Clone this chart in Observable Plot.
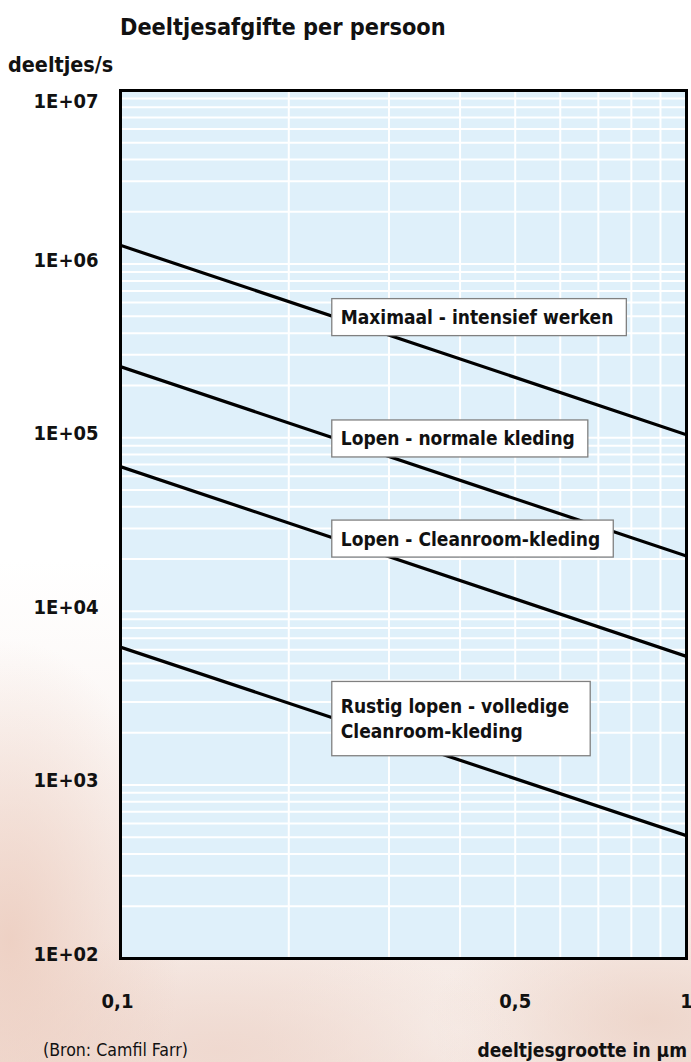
<!DOCTYPE html>
<html>
<head>
<meta charset="utf-8">
<script src="https://cdn.jsdelivr.net/npm/d3@7"></script>
<script src="https://cdn.jsdelivr.net/npm/@observablehq/plot@0.6"></script>
<style>
  html, body { margin: 0; padding: 0; }
  body {
    width: 691px; height: 1062px; position: relative; overflow: hidden;
    font-family: "DejaVu Sans Condensed", "DejaVu Sans", sans-serif;
    background:
      radial-gradient(ellipse 170px 300px at 10px 940px, rgba(236,204,190,0.85), rgba(236,204,190,0) 100%),
      radial-gradient(ellipse 300px 120px at 220px 1050px, rgba(238,214,204,0.8), rgba(238,214,204,0) 100%),
      radial-gradient(ellipse 220px 110px at 650px 1020px, rgba(236,210,198,0.8), rgba(236,210,198,0) 100%),
      radial-gradient(ellipse 200px 90px at 460px 1030px, rgba(248,240,236,0.9), rgba(248,240,236,0) 100%),
      linear-gradient(to bottom, #ffffff 0px, #ffffff 560px, #f8efeb 900px, #f3e3dc 1062px);
  }
  .txt { position: absolute; white-space: nowrap; line-height: 1; color: #111; }
  #chart { position: absolute; left: 0; top: 0; }
</style>
</head>
<body>
<div id="chart"></div>
<div class="txt" id="title" style="left:120px; top:15px; font-size:23.3px; font-weight:bold;">Deeltjesafgifte per persoon</div>
<div class="txt" id="ylab" style="left:8px; top:54px; font-size:21.4px; font-weight:bold;">deeltjes/s</div>
<div class="txt" id="source" style="left:43px; top:1042px; font-size:17.6px;">(Bron: Camfil Farr)</div>
<div class="txt" id="xlab" style="right:4px; top:1041px; font-size:19px; font-weight:bold;">deeltjesgrootte in µm</div>
<script>
// ---- data ----
const sizes = [0.1, 1];                       // particle size in µm
const maximaal = [1.3e6, 1.04e5];             // Maximaal - intensief werken
const normaal = [2.6e5, 2.08e4];              // Lopen - normale kleding
const cleanroom = [6.9e4, 5.5e3];             // Lopen - Cleanroom-kleding
const rustig = [6.3e3, 5.1e2];                // Rustig lopen - volledige Cleanroom-kleding
const seriesNames = [
  "Maximaal - intensief werken",
  "Lopen - normale kleding",
  "Lopen - Cleanroom-kleding",
  "Rustig lopen - volledige\nCleanroom-kleding"
];
const seriesValues = [maximaal, normaal, cleanroom, rustig];
const xTicks = [0.1, 0.5, 1];
const xTickLabels = ["0,1", "0,5", "1"];
const yTicks = [1e2, 1e3, 1e4, 1e5, 1e6, 1e7];
const yTickLabels = ["1E+02", "1E+03", "1E+04", "1E+05", "1E+06", "1E+07"];
const labelSize = 0.238;                      // size at which the labels sit

// ---- tables ----
const lineRows = seriesValues.flatMap((vals, s) =>
  sizes.map((x, i) => ({series: seriesNames[s], x, y: vals[i]})));
const t = (Math.log10(labelSize) - Math.log10(sizes[0])) / (Math.log10(sizes[1]) - Math.log10(sizes[0]));
const labelRows = seriesValues.map((vals, s) => ({
  name: seriesNames[s],
  x: labelSize,
  y: Math.pow(10, Math.log10(vals[0]) + t * (Math.log10(vals[1]) - Math.log10(vals[0])))
}));

const xGrid = d3.scaleLog().domain([0.1, 1]).ticks();
const yGrid = d3.scaleLog().domain([1e2, 1e7]).ticks();
const font = '"DejaVu Sans Condensed", "DejaVu Sans", sans-serif';
const yFmt = (d) => yTickLabels[yTicks.indexOf(d)];
const yTop = yTicks.slice(-1), yRest = yTicks.slice(0, -1);

const plot = Plot.plot({
  width: 691,
  height: 1062,
  marginTop: 90,
  marginBottom: 104,
  marginLeft: 120,
  marginRight: 5,
  style: {background: "transparent", fontFamily: font, overflow: "visible"},
  x: {type: "log", domain: [0.1, 1], range: [117, 686]},
  y: {type: "log", domain: [1e2, 1e7]},
  marks: [
    Plot.frame({fill: "#dff0fa", stroke: null}),
    Plot.gridX(xGrid, {stroke: "#ffffff", strokeOpacity: 1, strokeWidth: 2, clip: true}),
    Plot.gridY(yGrid, {stroke: "#ffffff", strokeOpacity: 1, strokeWidth: 2}),
    Plot.line(lineRows, {x: "x", y: "y", z: "series", stroke: "#000", strokeWidth: 3.2, clip: true}),
    Plot.text(labelRows, {x: "x", y: "y", text: "name", textAnchor: "start", lineAnchor: "middle",
      dx: 9, fontSize: 19, fontWeight: "bold", fill: "#111", lineHeight: 1.33}),
    Plot.frame({stroke: "#000", strokeWidth: 3}),
    Plot.axisY(yTop, {tickSize: 0, tickPadding: 22, fontSize: 20, fontWeight: "bold", fill: "#111",
      dy: 11, tickFormat: yFmt, label: null}),
    Plot.axisY(yRest, {tickSize: 0, tickPadding: 22, fontSize: 20, fontWeight: "bold", fill: "#111",
      dy: -4, tickFormat: yFmt, label: null}),
    Plot.axisX(xTicks, {tickSize: 0, tickPadding: 35, fontSize: 20, fontWeight: "bold", fill: "#111",
      tickFormat: (d) => xTickLabels[xTicks.indexOf(d)], label: null})
  ]
});
document.getElementById("chart").appendChild(plot);

// white label boxes behind the series labels
const svg = d3.select(plot);
svg.selectAll('g[aria-label="text"]').each(function() {
  const g = this;
  d3.select(g).selectAll("text").each(function() {
    const b = this.getBBox();
    const multi = this.querySelectorAll("tspan").length > 1;
    const padY = multi ? 13.5 : 7.5;
    const padR = multi ? 21 : 13;
    const tr = this.getAttribute("transform");
    const r = document.createElementNS("http://www.w3.org/2000/svg", "rect");
    r.setAttribute("x", b.x - 9);
    r.setAttribute("y", b.y - padY);
    r.setAttribute("width", b.width + 9 + padR);
    r.setAttribute("height", b.height + 2 * padY);
    r.setAttribute("fill", "#ffffff");
    r.setAttribute("stroke", "#808080");
    r.setAttribute("stroke-width", 1.3);
    if (tr) r.setAttribute("transform", tr);
    g.insertBefore(r, this);
  });
});
</script>
</body>
</html>
